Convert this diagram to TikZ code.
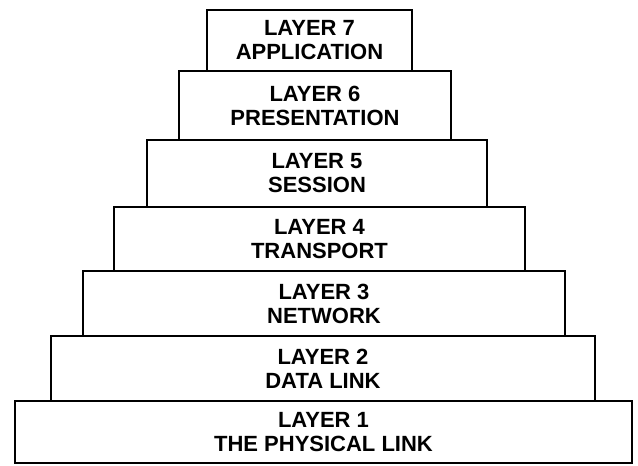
\documentclass[tikz,border=0pt]{standalone}
\usepackage{fontspec}
\setmainfont{Liberation Sans}
\begin{document}
\begin{tikzpicture}[x=1pt,y=-1pt,
  layerbox/.style={draw=black, line width=2.2pt, fill=white, inner sep=0pt,
    align=center, font=\fontsize{22}{24}\selectfont\bfseries}]
\useasboundingbox (0,0) rectangle (638,466);
% stacked layers, bottom (widest) to top (narrowest)
\node[layerbox, minimum width=617pt, minimum height=62pt] (l1) at (323.5,432)
  {LAYER 1\\THE PHYSICAL LINK};
\node[layerbox, minimum width=544pt, minimum height=65pt] (l2) at (323,368.5)
  {LAYER 2\\DATA LINK};
\node[layerbox, minimum width=482pt, minimum height=65pt] (l3) at (324,303.5)
  {LAYER 3\\NETWORK};
\node[layerbox, minimum width=411pt, minimum height=64pt] (l4) at (319.5,239)
  {LAYER 4\\TRANSPORT};
\node[layerbox, minimum width=340pt, minimum height=67pt] (l5) at (317,173.5)
  {LAYER 5\\SESSION};
\node[layerbox, minimum width=272pt, minimum height=69pt] (l6) at (315,105.5)
  {LAYER 6\\PRESENTATION};
\node[layerbox, minimum width=205pt, minimum height=61pt] (l7) at (309.5,40.5)
  {LAYER 7\\APPLICATION};
\end{tikzpicture}
\end{document}
